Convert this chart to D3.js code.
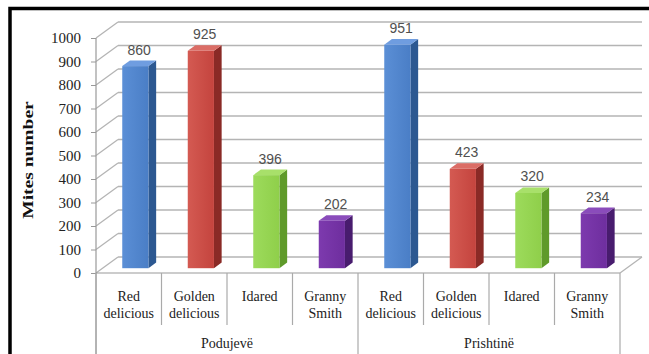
<!DOCTYPE html>
<html>
<head>
<meta charset="utf-8">
<script src="https://cdn.jsdelivr.net/npm/d3@7"></script>
<style>
  body { margin: 0; background: #fff; }
  svg { display: block; }
  .serif { font-family: "Liberation Serif", "Times New Roman", serif; }
</style>
</head>
<body>
<svg id="chart"></svg>
<script>
// data
const groups = ["Podujevë", "Prishtinë"];
const varieties = [["Red", "delicious"], ["Golden", "delicious"], ["Idared"], ["Granny", "Smith"]];
const podujeve = [860, 925, 396, 202];
const prishtine = [951, 423, 320, 234];
const yTicks = [0, 100, 200, 300, 400, 500, 600, 700, 800, 900, 1000];

const colors = [
  {front: "#4a7ec6", light: "#5b8fd6", side: "#2c5891", top: "#6f9de0"},
  {front: "#c4443e", light: "#d45a52", side: "#8a2a26", top: "#db6d66"},
  {front: "#8fcf4a", light: "#9ddb5c", side: "#5f9a2a", top: "#a8e06a"},
  {front: "#6e2e9e", light: "#7d3aae", side: "#481c6e", top: "#8a4cbb"}
];

const width = 649, height = 354;
const svg = d3.select("#chart").attr("width", width).attr("height", height);

// 3d depth vector of the plot box
const D = {x: 22, y: -16};
const fFront = 0.3, fBack = 0.65;

const rows = [];
groups.forEach((g, gi) => {
  const vals = gi === 0 ? podujeve : prishtine;
  varieties.forEach((v, vi) => rows.push({group: g, gi, variety: v, vi, value: vals[vi], key: g + vi}));
});

const x = d3.scaleBand().domain(rows.map(d => d.key)).range([96, 620]).padding(0);
const y = d3.scaleLinear().domain([0, 1000]).range([273, 38]);

// gradients
const defs = svg.append("defs");
colors.forEach((c, i) => {
  const lg = defs.append("linearGradient").attr("id", "g" + i).attr("x1", 0).attr("x2", 1).attr("y1", 0).attr("y2", 0);
  lg.append("stop").attr("offset", "0%").attr("stop-color", c.light);
  lg.append("stop").attr("offset", "100%").attr("stop-color", c.front);
});

const gridColor = "#b4b4b4";
const x0 = x.range()[0], x1 = x.range()[1];

// back wall gridlines
svg.append("g").selectAll("line").data(yTicks).join("line")
  .attr("x1", x0 + D.x).attr("x2", x1 + D.x)
  .attr("y1", d => y(d) + D.y).attr("y2", d => y(d) + D.y)
  .attr("stroke", gridColor).attr("stroke-width", 1.5);

// side wall diagonals
svg.append("g").selectAll("line").data(yTicks).join("line")
  .attr("x1", x0).attr("x2", x0 + D.x)
  .attr("y1", d => y(d)).attr("y2", d => y(d) + D.y)
  .attr("stroke", gridColor).attr("stroke-width", 1.2);

// floor edges
svg.append("line").attr("x1", x0).attr("x2", x1).attr("y1", y(0)).attr("y2", y(0))
  .attr("stroke", "#999").attr("stroke-width", 1.2);
svg.append("line").attr("x1", x1).attr("x2", x1 + D.x).attr("y1", y(0)).attr("y2", y(0) + D.y)
  .attr("stroke", gridColor).attr("stroke-width", 1.2);

// y axis
const yAxis = svg.append("g").attr("transform", `translate(${x0},0)`)
  .call(d3.axisLeft(y).tickValues(yTicks).tickFormat(d3.format("d")).tickSize(5).tickPadding(10).tickSizeOuter(0));
yAxis.attr("font-family", null).attr("font-size", null);
yAxis.select(".domain").remove();
yAxis.selectAll(".tick line").attr("stroke", "#999");
yAxis.selectAll(".tick text")
  .attr("class", "serif")
  .style("font-size", "15px").attr("fill", "#222");
svg.append("line").attr("x1", x0).attr("x2", x0).attr("y1", y(1000)).attr("y2", height)
  .attr("stroke", "#999").attr("stroke-width", 1.2);

// y title
svg.append("text")
  .attr("class", "serif")
  .attr("transform", `translate(33,${(98 + 222) / 2}) rotate(-90) scale(1.3,1)`)
  .attr("text-anchor", "middle")
  .style("font-weight", "bold").style("font-size", "15px").attr("fill", "#111")
  .text("Mites number");

// bars
const bw = x.bandwidth() * 0.4;
const dF = {x: D.x * fFront, y: D.y * fFront};
const dB = {x: D.x * fBack, y: D.y * fBack};

const bars = svg.append("g").selectAll("g").data(rows).join("g");
bars.each(function (d) {
  const g = d3.select(this);
  const c = colors[d.vi];
  const xl = x(d.key) + (x.bandwidth() - bw) / 2 + dF.x;
  const xr = xl + bw;
  const yb = y(0) + dF.y;
  const yt = y(d.value) + dF.y;
  const sx = dB.x - dF.x, sy = dB.y - dF.y;
  // side face
  g.append("path")
    .attr("d", `M${xr},${yt}L${xr + sx},${yt + sy}L${xr + sx},${yb + sy}L${xr},${yb}Z`)
    .attr("fill", c.side);
  // top face
  g.append("path")
    .attr("d", `M${xl},${yt}L${xl + sx},${yt + sy}L${xr + sx},${yt + sy}L${xr},${yt}Z`)
    .attr("fill", c.top);
  // front face
  g.append("rect")
    .attr("x", xl).attr("y", yt).attr("width", bw).attr("height", yb - yt)
    .attr("fill", `url(#g${d.vi})`);
  // value label
  g.append("text")
    .attr("x", xl + bw / 2 + sx / 2).attr("y", yt + sy - 6)
    .attr("text-anchor", "middle")
    .style("font-family", "'Liberation Sans', Arial, sans-serif")
    .style("font-size", "14px").attr("fill", "#505050")
    .text(d.value);
});

// category axis separators
const bounds = rows.map(d => x(d.key)).concat([x1]);
svg.append("g").selectAll("line").data(bounds).join("line")
  .attr("x1", d => d).attr("x2", d => d)
  .attr("y1", y(0))
  .attr("y2", (d, i) => i % 4 === 0 ? height : 325)
  .attr("stroke", "#aaa").attr("stroke-width", 1.2);

// category labels
const catLabels = svg.append("g").selectAll("text").data(rows).join("text")
  .attr("class", "serif")
  .attr("x", d => x(d.key) + x.bandwidth() / 2)
  .attr("y", 301)
  .attr("text-anchor", "middle")
  .style("font-size", "14px").attr("fill", "#222");
catLabels.selectAll("tspan").data(d => d.variety).join("tspan")
  .attr("x", function () { return d3.select(this.parentNode).attr("x"); })
  .attr("dy", (t, i) => i === 0 ? 0 : 17)
  .text(t => t);

// group labels
svg.append("g").selectAll("text").data(groups).join("text")
  .attr("class", "serif")
  .attr("x", (g, i) => (bounds[i * 4] + bounds[i * 4 + 4]) / 2)
  .attr("y", 348)
  .attr("text-anchor", "middle")
  .style("font-size", "14px").attr("fill", "#222")
  .text(g => g);

// frame
svg.append("path").attr("d", `M10,${height}L10,8.5L${width},8.5`)
  .attr("fill", "none").attr("stroke", "#000").attr("stroke-width", 3.5);
</script>
</body>
</html>
